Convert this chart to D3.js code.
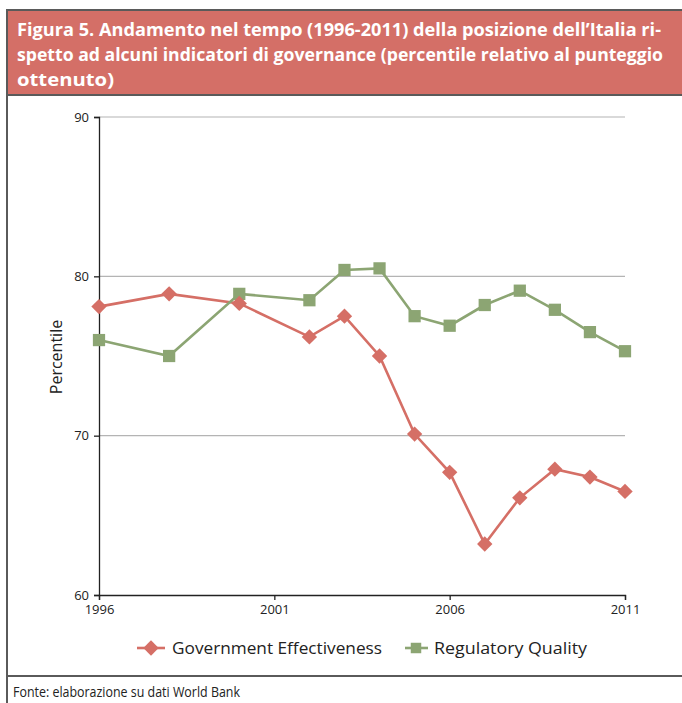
<!DOCTYPE html>
<html>
<head>
<meta charset="utf-8">
<script src="https://cdn.jsdelivr.net/npm/d3@7"></script>
<style>
  html, body { margin: 0; padding: 0; background: #fff; }
  svg { display: block; }
</style>
</head>
<body>
<svg id="chart" width="682" height="703"></svg>
<script>
// Anni e percentili (World Bank, Italia)
const years = [1996, 1998, 2000, 2002, 2003, 2004, 2005, 2006, 2007, 2008, 2009, 2010, 2011];
const governmentEffectiveness = [78.1, 78.9, 78.3, 76.2, 77.5, 75.0, 70.1, 67.7, 63.2, 66.1, 67.9, 67.4, 66.5];
const regulatoryQuality = [76.0, 75.0, 78.9, 78.5, 80.4, 80.5, 77.5, 76.9, 78.2, 79.1, 77.9, 76.5, 75.3];
const yTicks = [60, 70, 80, 90];
const xTicks = [1996, 2001, 2006, 2011];
const seriesNames = ["Government Effectiveness", "Regulatory Quality"];

const titleLines = [
  "Figura 5. Andamento nel tempo (1996-2011) della posizione dell\u2019Italia ri-",
  "spetto ad alcuni indicatori di governance (percentile relativo al punteggio",
  "ottenuto)"
];
const source = "Fonte: elaborazione su dati World Bank";

const red = "#D56F66";
const green = "#8CA573";
const frame = "#5a5a5a";

const svg = d3.select("#chart");

// Cornice e intestazione
svg.append("rect").attr("x", 7).attr("y", 10).attr("width", 690).attr("height", 85)
  .attr("fill", "#D46F67");
svg.append("path")
  .attr("d", "M7,710 V10 H700")
  .attr("fill", "none").attr("stroke", frame).attr("stroke-width", 2);
svg.append("line").attr("x1", 7).attr("x2", 700).attr("y1", 95).attr("y2", 95)
  .attr("stroke", frame).attr("stroke-width", 2);
svg.append("line").attr("x1", 7).attr("x2", 700).attr("y1", 676).attr("y2", 676)
  .attr("stroke", frame).attr("stroke-width", 2);

const titleWidths = [644, 646, 97];
svg.append("g").selectAll("text").data(titleLines).join("text")
  .attr("x", 17)
  .attr("y", (d, i) => 36 + i * 25)
  .attr("fill", "#fff")
  .attr("font-family", "'Open Sans', sans-serif")
  .attr("font-weight", "bold")
  .attr("font-size", 18)
  .attr("textLength", (d, i) => titleWidths[i])
  .attr("lengthAdjust", "spacingAndGlyphs")
  .text(d => d);

svg.append("text")
  .attr("x", 13).attr("y", 697)
  .attr("fill", "#222")
  .attr("font-family", "'Open Sans', sans-serif")
  .attr("font-size", 15)
  .attr("textLength", 227)
  .attr("lengthAdjust", "spacingAndGlyphs")
  .text(source);

// Area del grafico
const plotLeft = 99, plotRight = 625, plotTop = 117, plotBottom = 595;
const x = d3.scaleLinear().domain([1996, 2011]).range([plotLeft, plotRight]);
const y = d3.scaleLinear().domain([60, 90]).range([plotBottom, plotTop]);

const g = svg.append("g");

// Griglia orizzontale
g.append("g").selectAll("line").data(yTicks.filter(t => t > 60)).join("line")
  .attr("x1", plotLeft).attr("x2", plotRight)
  .attr("y1", d => y(d)).attr("y2", d => y(d))
  .attr("stroke", "#b4b4b4").attr("stroke-width", 1.2);

// Asse Y
const yAxis = g.append("g").attr("transform", `translate(${plotLeft},0)`)
  .call(d3.axisLeft(y).tickValues(yTicks).tickSize(5).tickPadding(5).tickFormat(d3.format("d")));
yAxis.select(".domain").attr("stroke", "#222").attr("stroke-width", 1.3);
yAxis.selectAll(".tick line").attr("stroke", "#222").attr("stroke-width", 1.3);
yAxis.selectAll("text").attr("font-family", "'Open Sans', sans-serif").attr("font-size", 13).attr("fill", "#222");

// Asse X
const xAxis = g.append("g").attr("transform", `translate(0,${plotBottom})`)
  .call(d3.axisBottom(x).tickValues(xTicks).tickSize(5).tickPadding(5).tickFormat(d3.format("d")));
xAxis.select(".domain").attr("stroke", "#222").attr("stroke-width", 1.3);
xAxis.selectAll(".tick line").attr("stroke", "#222").attr("stroke-width", 1.3);
xAxis.selectAll("text").attr("font-family", "'Open Sans', sans-serif").attr("font-size", 13).attr("fill", "#222");

// Etichetta asse Y
svg.append("text")
  .attr("transform", `translate(62,357) rotate(-90)`)
  .attr("text-anchor", "middle")
  .attr("font-family", "'Open Sans', sans-serif")
  .attr("font-size", 16)
  .attr("fill", "#222")
  .text("Percentile");

const line = d3.line().x(d => x(d[0])).y(d => y(d[1]));
const ge = years.map((yr, i) => [yr, governmentEffectiveness[i]]);
const rq = years.map((yr, i) => [yr, regulatoryQuality[i]]);

const diamond = d3.symbol().type(d3.symbolSquare).size(118);
const square = d3.symbol().type(d3.symbolSquare).size(150);

// Government Effectiveness
g.append("path").datum(ge).attr("d", line)
  .attr("fill", "none").attr("stroke", red).attr("stroke-width", 2.6);
// Regulatory Quality
g.append("path").datum(rq).attr("d", line)
  .attr("fill", "none").attr("stroke", green).attr("stroke-width", 2.6);

g.append("g").selectAll("path").data(rq).join("path")
  .attr("transform", d => `translate(${x(d[0])},${y(d[1])})`)
  .attr("d", square).attr("fill", green);
g.append("g").selectAll("path").data(ge).join("path")
  .attr("transform", d => `translate(${x(d[0])},${y(d[1])}) rotate(45)`)
  .attr("d", diamond).attr("fill", red);

// Legenda
const legend = svg.append("g").attr("transform", "translate(0,648)");
legend.append("line").attr("x1", 137).attr("x2", 165).attr("stroke", red).attr("stroke-width", 2.6);
legend.append("path").attr("transform", "translate(151,0) rotate(45)").attr("d", diamond).attr("fill", red);
legend.append("text").attr("x", 172).attr("y", 6)
  .attr("font-family", "'Open Sans', sans-serif").attr("font-size", 16).attr("fill", "#222")
  .attr("textLength", 210).attr("lengthAdjust", "spacingAndGlyphs")
  .text(seriesNames[0]);
legend.append("line").attr("x1", 405).attr("x2", 428).attr("stroke", green).attr("stroke-width", 2.6);
legend.append("path").attr("transform", "translate(416,0)").attr("d", d3.symbol().type(d3.symbolSquare).size(110)).attr("fill", green);
legend.append("text").attr("x", 434).attr("y", 6)
  .attr("font-family", "'Open Sans', sans-serif").attr("font-size", 16).attr("fill", "#222")
  .attr("textLength", 153).attr("lengthAdjust", "spacingAndGlyphs")
  .text(seriesNames[1]);
</script>
</body>
</html>
